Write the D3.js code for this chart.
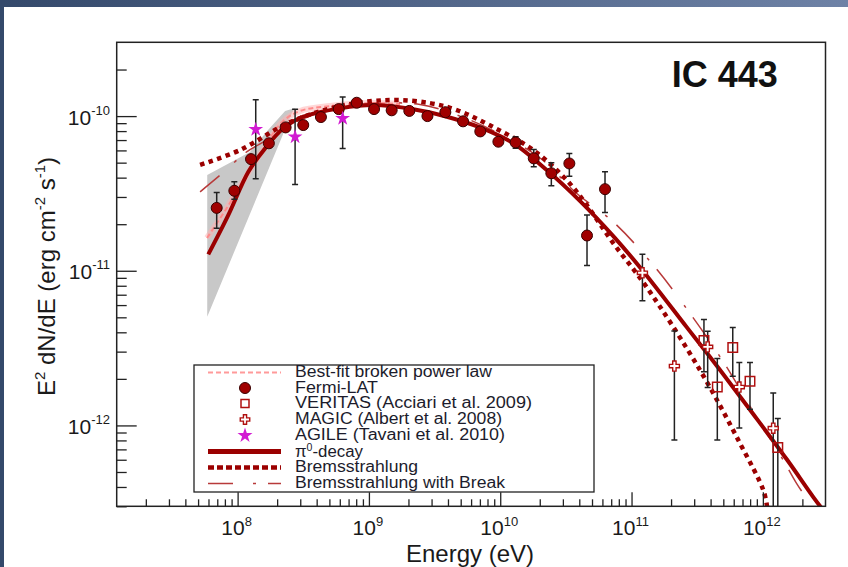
<!DOCTYPE html>
<html><head><meta charset="utf-8">
<script src="https://cdn.jsdelivr.net/npm/d3@7"></script>
<style>body{margin:0;background:#fff}svg{display:block}</style>
</head><body><svg id="c" width="848" height="567"></svg>
<script>
// ---------------- data ----------------
const fermiE  = [6.93e7, 9.44e7, 1.265e8, 1.73e8, 2.32e8, 3.16e8, 4.31e8, 5.89e8, 8.07e8, 1.094e9, 1.49e9, 2.03e9, 2.79e9, 3.82e9, 5.21e9, 7.05e9, 9.68e9, 1.31e10, 1.80e10, 2.45e10, 3.36e10, 4.58e10, 6.28e10];
const fermiF  = [2.55e-11, 3.29e-11, 5.27e-11, 6.67e-11, 8.45e-11, 8.75e-11, 9.86e-11, 1.11e-10, 1.22e-10, 1.11e-10, 1.09e-10, 1.08e-10, 1.00e-10, 1.06e-10, 9.25e-11, 7.96e-11, 6.83e-11, 6.76e-11, 5.33e-11, 4.27e-11, 4.94e-11, 1.69e-11, 3.37e-11];
const fermiLo = [1.88e-11, 2.90e-11, null, null, null, null, null, null, null, null, null, null, null, null, null, null, null, 6.2e-11, 4.70e-11, 3.54e-11, 4.09e-11, 1.08e-11, 2.38e-11];
const fermiHi = [3.21e-11, 3.76e-11, null, null, null, null, null, null, null, null, null, null, null, null, null, null, null, 7.35e-11, 6.08e-11, 4.99e-11, 5.74e-11, 2.29e-11, 4.37e-11];

const agileE  = [1.374e8, 2.74e8, 6.31e8];
const agileF  = [8.2e-11, 7.34e-11, 9.66e-11];
const agileLo = [3.94e-11, 3.61e-11, 6.18e-11];
const agileHi = [1.276e-10, 1.107e-10, 1.33e-10];

const magicE  = [1.21e11, 2.12e11, 3.80e11, 6.62e11, 1.20e12];
const magicF  = [9.7e-12, 2.42e-12, 3.22e-12, 1.77e-12, 9.6e-13];
const magicLo = [6.40e-12, 8.04e-13, 1.76e-12, 9.64e-13, 2.0e-13];
const magicHi = [1.28e-11, 4.08e-12, 4.07e-12, 2.55e-12, 1.62e-12];

const veritasE  = [3.56e11, 4.50e11, 5.90e11, 7.98e11, 1.30e12];
const veritasF  = [3.54e-12, 1.77e-12, 3.19e-12, 1.93e-12, 7.2e-13];
const veritasLo = [2.22e-12, 8.04e-13, 2.08e-12, 1.27e-12, 2.0e-13];
const veritasHi = [4.84e-12, 2.71e-12, 4.29e-12, 2.55e-12, 1.11e-12];

const pionE = [5.98e7, 8.49e7, 1.208e8, 1.618e8, 2.23e8, 3.16e8, 6.03e8, 1.079e9, 2.18e9, 3.92e9, 7.01e9, 1.259e10, 2.26e10, 4.06e10, 7.26e10, 1.208e11, 2.63e11, 4.72e11, 8.47e11, 1.52e12, 2.43e12, 2.82e12];
const pionF = [1.276e-11, 2.29e-11, 4.37e-11, 6.18e-11, 8.34e-11, 9.91e-11, 1.122e-10, 1.178e-10, 1.107e-10, 9.91e-11, 8.45e-11, 6.67e-11, 4.48e-11, 2.82e-11, 1.675e-11, 1.009e-11, 4.32e-12, 2.28e-12, 1.181e-12, 6.04e-13, 3.43e-13, 2.9e-13];

const bremE = [5.18e7, 1.042e8, 2.51e8, 6.03e8, 1.449e9, 2.92e9, 4.67e9, 8.85e9, 1.786e10, 3.21e10, 4.56e10, 7.26e10, 1.306e11, 3.33e11, 6.71e11, 1.009e12, 1.076e12];
const bremF = [4.84e-11, 6.03e-11, 9.14e-11, 1.161e-10, 1.271e-10, 1.213e-10, 1.094e-10, 8.49e-11, 6.03e-11, 3.85e-11, 2.66e-11, 1.507e-11, 7.82e-12, 2.27e-12, 7.64e-13, 3.81e-13, 3.0e-13];

const breakE = [5.18e7, 7.60e7, 1.172e8, 1.667e8, 2.99e8, 6.03e8, 1.213e9, 2.45e9, 4.94e9, 9.95e9, 2.01e10, 3.83e10, 7.26e10, 1.466e11, 2.79e11, 5.00e11, 8.47e11, 1.432e12, 1.811e12, 2.37e12];
const breakF = [3.24e-11, 4.25e-11, 5.87e-11, 7.00e-11, 9.42e-11, 1.143e-10, 1.213e-10, 1.189e-10, 1.0e-10, 7.66e-11, 5.36e-11, 3.16e-11, 2.07e-11, 1.086e-11, 5.30e-12, 2.58e-12, 1.225e-12, 5.96e-13, 4.21e-13, 3.0e-13];

const bplE = [5.85e7, 8.45e7, 1.138e8, 1.535e8, 2.18e8, 2.99e8, 5.06e8, 1.019e9, 1.726e9];
const bplF = [1.63e-11, 2.62e-11, 3.97e-11, 5.94e-11, 9.14e-11, 1.079e-10, 1.161e-10, 1.213e-10, 1.197e-10];

const bandE = [5.87e7, 1.242e8, 1.706e8, 2.30e8, 2.74e8, 2.59e8, 5.87e7];
const bandF = [4.16e-11, 5.87e-11, 8.13e-11, 1.079e-10, 1.127e-10, 1.047e-10, 5.04e-12];

const xTicks = [1e8, 1e9, 1e10, 1e11, 1e12];
const xTickExp = ['8', '9', '10', '11', '12'];
const yTicks = [1e-10, 1e-11, 1e-12];
const yTickExp = ['-10', '-11', '-12'];

const legendLabels = ['Best-fit broken power law', 'Fermi-LAT', 'VERITAS (Acciari et al. 2009)', 'MAGIC (Albert et al. 2008)', 'AGILE (Tavani et al. 2010)', 'π0-decay', 'Bremsstrahlung', 'Bremsstrahlung with Break'];
const legendWidths = [197, 83, 237, 207, 210, 68, 123, 210];

// ---------------- drawing ----------------
const FONT = "'Liberation Sans', Arial, Helvetica, sans-serif";
const RED = '#9b0000';
const svg = d3.select('#c').style('font-family', FONT);

const defs = svg.append('defs');
const gr = defs.append('linearGradient').attr('id', 'topg').attr('x1', '0%').attr('x2', '100%');
gr.append('stop').attr('offset', '0%').attr('stop-color', '#34496b');
gr.append('stop').attr('offset', '100%').attr('stop-color', '#6e82a6');
svg.append('rect').attr('x', 0).attr('y', 0).attr('width', 848).attr('height', 7).attr('fill', 'url(#topg)');
svg.append('rect').attr('x', 0).attr('y', 0).attr('width', 4).attr('height', 567).attr('fill', '#34496b');

const L = 116.7, R = 825.5, T = 42.3, B = 506.3;
const x = d3.scaleLog().domain([1.2e7, 3e12]).range([L, R]);
const y = d3.scaleLog().domain([3e-13, 3e-10]).range([B, T]);

defs.append('clipPath').attr('id', 'clip').append('rect')
  .attr('x', L).attr('y', T).attr('width', R - L).attr('height', B - T);

const plot = svg.append('g').attr('clip-path', 'url(#clip)');

// gray band
plot.append('path')
  .attr('d', d3.line().x((d, i) => x(bandE[i])).y((d, i) => y(bandF[i]))(bandE) + 'Z')
  .attr('fill', '#c8c8c8').attr('stroke', 'none');

const lineGen = (E, F) => d3.line().curve(d3.curveCatmullRom.alpha(0.5)).x((d, i) => x(E[i])).y((d, i) => y(F[i]))(E);

// best-fit broken power law (pink)
plot.append('path').attr('d', lineGen(bplE, bplF)).attr('fill', 'none')
  .attr('stroke', '#ffb0b0').attr('stroke-width', 6).attr('opacity', 0.5);
plot.append('path').attr('d', lineGen(bplE, bplF)).attr('fill', 'none')
  .attr('stroke', '#ff8a8a').attr('stroke-width', 2).attr('stroke-dasharray', '5,3');

// model curves
plot.append('path').attr('d', lineGen(breakE, breakF)).attr('fill', 'none')
  .attr('stroke', '#b83a3a').attr('stroke-width', 1.5).attr('stroke-dasharray', '25,20,3,12');
plot.append('path').attr('d', lineGen(bremE, bremF)).attr('fill', 'none')
  .attr('stroke', RED).attr('stroke-width', 4.5).attr('stroke-dasharray', '4.5,4.5');
plot.append('path').attr('d', lineGen(pionE, pionF)).attr('fill', 'none')
  .attr('stroke', RED).attr('stroke-width', 4);

// error bars
function errBars(E, F, Lo, Hi) {
  const g = plot.append('g').attr('stroke', '#222').attr('stroke-width', 1.5);
  E.forEach((e, i) => {
    if (Lo[i] == null || Hi[i] == null) return;
    const cx = x(e), y1 = y(Lo[i]), y2 = y(Hi[i]);
    g.append('line').attr('x1', cx).attr('x2', cx).attr('y1', y1).attr('y2', y2);
    g.append('line').attr('x1', cx - 3).attr('x2', cx + 3).attr('y1', y1).attr('y2', y1);
    g.append('line').attr('x1', cx - 3).attr('x2', cx + 3).attr('y1', y2).attr('y2', y2);
  });
}
errBars(fermiE, fermiF, fermiLo, fermiHi);
errBars(agileE, agileF, agileLo, agileHi);
errBars(magicE, magicF, magicLo, magicHi);
errBars(veritasE, veritasF, veritasLo, veritasHi);

// points
plot.append('g').selectAll('circle').data(fermiE).join('circle')
  .attr('cx', d => x(d)).attr('cy', (d, i) => y(fermiF[i])).attr('r', 5.5)
  .attr('fill', '#a00000').attr('stroke', '#3a0000').attr('stroke-width', 1);
plot.append('g').selectAll('path').data(veritasE).join('path')
  .attr('transform', (d, i) => `translate(${x(d)},${y(veritasF[i])})`)
  .attr('d', d3.symbol(d3.symbolSquare, 90)())
  .attr('fill', 'none').attr('stroke', '#b01010').attr('stroke-width', 1.5);
plot.append('g').selectAll('path').data(magicE).join('path')
  .attr('transform', (d, i) => `translate(${x(d)},${y(magicF[i])})`)
  .attr('d', d3.symbol(d3.symbolCross, 56)())
  .attr('fill', '#fff').attr('stroke', '#b01010').attr('stroke-width', 1.4);
plot.append('g').selectAll('path').data(agileE).join('path')
  .attr('transform', (d, i) => `translate(${x(d)},${y(agileF[i])})`)
  .attr('d', d3.symbol(d3.symbolStar, 68)())
  .attr('fill', '#d21bd2').attr('stroke', 'none');

// axes (ticks pointing inward)
const xMinor = [], yMinor = [];
for (let d = 7; d <= 12; d++) for (let m = 2; m <= 9; m++) { const v = m * Math.pow(10, d); if (v > 1.2e7 && v < 3e12) xMinor.push(v); }
for (let d = -13; d <= -10; d++) for (let m = 2; m <= 9; m++) { const v = m * Math.pow(10, d); if (v > 3e-13 && v < 3e-10) yMinor.push(v); }

function styleAxis(g) { g.select('.domain').remove(); g.selectAll('line').attr('stroke', '#222').attr('stroke-width', 1.3); g.selectAll('text').remove(); }
svg.append('g').attr('transform', `translate(0,${B})`).call(d3.axisBottom(x).tickValues(xTicks).tickSize(-14)).call(styleAxis);
svg.append('g').attr('transform', `translate(0,${B})`).call(d3.axisBottom(x).tickValues(xMinor).tickSize(-7)).call(styleAxis);
svg.append('g').attr('transform', `translate(${L},0)`).call(d3.axisLeft(y).tickValues(yTicks).tickSize(-20)).call(styleAxis);
svg.append('g').attr('transform', `translate(${L},0)`).call(d3.axisLeft(y).tickValues(yMinor).tickSize(-10)).call(styleAxis);

// frame
svg.append('rect').attr('x', L).attr('y', T).attr('width', R - L).attr('height', B - T)
  .attr('fill', 'none').attr('stroke', '#222').attr('stroke-width', 1.5);

// tick labels
xTicks.forEach((v, i) => {
  const t = svg.append('text').attr('x', x(v) - 1).attr('y', 534.7).attr('text-anchor', 'middle')
    .attr('font-size', 21).attr('fill', '#1a1a1a');
  t.append('tspan').text('10');
  t.append('tspan').attr('font-size', 13).attr('dy', -9).text(xTickExp[i]);
});
yTicks.forEach((v, i) => {
  const t = svg.append('text').attr('x', 110).attr('y', y(v) + 8.5).attr('text-anchor', 'end')
    .attr('font-size', 21).attr('fill', '#1a1a1a');
  t.append('tspan').text('10');
  t.append('tspan').attr('font-size', 13).attr('dy', -10).text(yTickExp[i]);
});

// axis titles
svg.append('text').attr('x', 470).attr('y', 562).attr('text-anchor', 'middle')
  .attr('font-size', 24).attr('fill', '#1a1a1a').text('Energy (eV)');
const yl = svg.append('text').attr('transform', 'translate(55,276.5) rotate(-90)').attr('text-anchor', 'middle')
  .attr('font-size', 24).attr('fill', '#1a1a1a');
yl.append('tspan').text('E');
yl.append('tspan').attr('font-size', 15).attr('dy', -10).text('2');
yl.append('tspan').attr('dy', 10).text(' dN/dE (erg cm');
yl.append('tspan').attr('font-size', 15).attr('dy', -10).text('-2');
yl.append('tspan').attr('dy', 10).text(' s');
yl.append('tspan').attr('font-size', 15).attr('dy', -10).text('-1');
yl.append('tspan').attr('dy', 10).text(')');

// title
svg.append('text').attr('x', 671.7).attr('y', 87.3).attr('font-size', 36).attr('font-weight', 'bold')
  .attr('fill', '#111').text('IC 443');

// legend
const lg = svg.append('g');
lg.append('rect').attr('x', 194).attr('y', 365).attr('width', 400).attr('height', 127)
  .attr('fill', '#fff').attr('stroke', '#222').attr('stroke-width', 1.3);
const rows = [377, 392.5, 408, 424, 439.5, 456.5, 472, 488];
const symX = 245;
lg.append('line').attr('x1', 208).attr('x2', 281).attr('y1', rows[0] - 4.5).attr('y2', rows[0] - 4.5)
  .attr('stroke', '#ff9a9a').attr('stroke-width', 2).attr('stroke-dasharray', '5,3');
lg.append('circle').attr('cx', symX).attr('cy', rows[1] - 4.5).attr('r', 5.5).attr('fill', '#a00000').attr('stroke', '#3a0000');
lg.append('path').attr('transform', `translate(${symX},${rows[2] - 4.5})`).attr('d', d3.symbol(d3.symbolSquare, 64)())
  .attr('fill', 'none').attr('stroke', '#b01010').attr('stroke-width', 1.5);
lg.append('path').attr('transform', `translate(${symX},${rows[3] - 4.5})`).attr('d', d3.symbol(d3.symbolCross, 50)())
  .attr('fill', '#fff').attr('stroke', '#b01010').attr('stroke-width', 1.4);
lg.append('path').attr('transform', `translate(${symX},${rows[4] - 4})`).attr('d', d3.symbol(d3.symbolStar, 70)())
  .attr('fill', '#d21bd2');
lg.append('line').attr('x1', 208).attr('x2', 281).attr('y1', rows[5] - 5).attr('y2', rows[5] - 5)
  .attr('stroke', RED).attr('stroke-width', 5);
lg.append('line').attr('x1', 208).attr('x2', 281).attr('y1', rows[6] - 4.5).attr('y2', rows[6] - 4.5)
  .attr('stroke', RED).attr('stroke-width', 4.5).attr('stroke-dasharray', '6,3');
lg.append('line').attr('x1', 208).attr('x2', 281).attr('y1', rows[7] - 4.5).attr('y2', rows[7] - 4.5)
  .attr('stroke', '#b83a3a').attr('stroke-width', 1.5).attr('stroke-dasharray', '25,20,3,12');

legendLabels.forEach((s, i) => {
  const t = lg.append('text').attr('x', 295).attr('y', rows[i]).attr('font-size', 16).attr('fill', '#1c1c2c')
    .attr('textLength', legendWidths[i]).attr('lengthAdjust', 'spacingAndGlyphs');
  if (s.startsWith('π0')) {
    t.append('tspan').text('π');
    t.append('tspan').attr('font-size', 10).attr('dy', -5.5).text('0');
    t.append('tspan').attr('dy', 5.5).text('-decay');
  } else {
    t.text(s);
  }
});
</script>
</body></html>
